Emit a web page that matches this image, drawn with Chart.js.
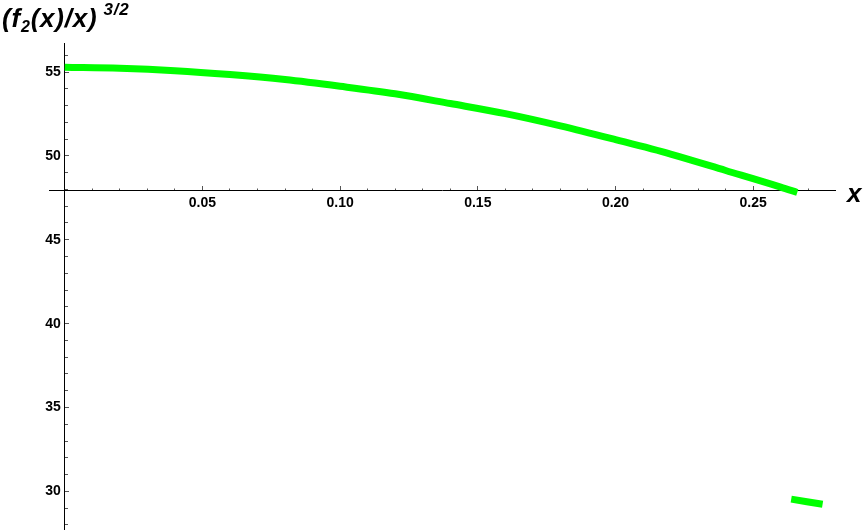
<!DOCTYPE html>
<html>
<head>
<meta charset="utf-8">
<script src="https://cdn.jsdelivr.net/npm/chart.js@4.4.1/dist/chart.umd.min.js"></script>
<style>
  html, body { margin: 0; padding: 0; background: #fff; }
  #wrap { position: relative; width: 864px; height: 530px; }
  #plot { position: absolute; left: 0; top: 0; }
  .lbl {
    position: absolute;
    font-family: "Liberation Sans", Arial, sans-serif;
    font-style: italic;
    font-weight: bold;
    color: #000;
    white-space: nowrap;
  }
  #title { left: 2px; top: 5px; font-size: 26px; line-height: 26px; letter-spacing: 0.8px; }
  #title .sub { position: relative; top: 5px; font-size: 16px; }
  #title .sup { position: relative; top: -12px; font-size: 17px; margin-left: 6px; }
  #xname { left: 847px; top: 180px; font-size: 26px; line-height: 26px; }
</style>
</head>
<body>
<div id="wrap">
  <canvas id="plot" width="864" height="530"></canvas>
  <div id="title" class="lbl">(f<span class="sub">2</span>(x)/x)<span class="sup">3/2</span></div>
  <div id="xname" class="lbl">x</div>
</div>
<script>
// curve values
const xValues = [0, 0.02, 0.04, 0.06, 0.08, 0.10, 0.12, 0.14, 0.16, 0.18, 0.20, 0.22, 0.24, 0.26, 0.266];
const yValues = [55.28, 55.22, 55.08, 54.85, 54.55, 54.15, 53.70, 53.12, 52.52, 51.79, 50.97, 50.11, 49.13, 48.14, 47.82];

// the short piece at the bottom right
const tailX = [0.2638, 0.2752];
const tailY = [29.54, 29.23];

// labelled ticks
const xTickLabels = [0.05, 0.10, 0.15, 0.20, 0.25];
const yTickLabels = [30, 35, 40, 45, 50, 55];

// axis ranges, and where the x axis crosses
const xMin = -0.0057, xMax = 0.2797;
const yMin = 27.74, yMax = 56.73;
const crossY = 47.92;

const fontFamily = '"Liberation Sans", Arial, sans-serif';
const green = '#00ff00';

function toPoints(xs, ys) {
    return xs.map(function(x, i) { return { x: x, y: ys[i] }; });
}

// small unlabelled ticks between the labelled ones
function minorTicks(from, to, step) {
    let out = [];
    for (let i = Math.round(from / step); i * step <= to + 1e-9; i++) {
        out.push({ value: +(i * step).toFixed(4) });
    }
    return out;
}

function lineDataset(points) {
    return {
        data: points,
        borderColor: green,
        borderWidth: 7,
        borderCapStyle: 'butt',
        pointRadius: 0,
        fill: false,
        tension: 0.4,
        cubicInterpolationMode: 'monotone',
        clip: false
    };
}

const ctx = document.getElementById('plot').getContext('2d');

new Chart(ctx, {
    type: 'line',
    data: {
        datasets: [
            lineDataset(toPoints(xValues, yValues)),
            lineDataset(toPoints(tailX, tailY))
        ]
    },
    options: {
        responsive: false,
        animation: false,
        events: [],
        layout: { padding: { left: 49, right: 29, top: 43, bottom: 0 } },
        plugins: { legend: { display: false }, tooltip: { enabled: false } },
        scales: {
            x: {
                type: 'linear',
                min: xMin, max: xMax,
                position: { y: crossY },
                border: { display: true, color: '#000', width: 1 },
                grid: { drawOnChartArea: false, drawTicks: true, tickLength: -5, tickColor: '#555' },
                afterBuildTicks: function(scale) {
                    scale.ticks = xTickLabels.map(function(v) { return { value: v }; });
                },
                ticks: {
                    autoSkip: false, maxRotation: 0, padding: 9,
                    color: '#000',
                    font: { family: fontFamily, size: 14, weight: 'bold' },
                    callback: function(v) { return v.toFixed(2); }
                }
            },
            xMinor: {
                type: 'linear', axis: 'x',
                min: xMin, max: xMax,
                position: { y: crossY },
                border: { display: false },
                grid: { drawOnChartArea: false, drawTicks: true, tickLength: -2.5, tickColor: '#555' },
                afterBuildTicks: function(scale) { scale.ticks = minorTicks(0.01, 0.27, 0.01); },
                ticks: { display: false }
            },
            y: {
                type: 'linear',
                min: yMin, max: yMax,
                position: { x: 0 },
                border: { display: true, color: '#000', width: 1 },
                grid: { drawOnChartArea: false, drawTicks: true, tickLength: -5, tickColor: '#555' },
                afterBuildTicks: function(scale) {
                    scale.ticks = yTickLabels.map(function(v) { return { value: v }; });
                },
                ticks: {
                    autoSkip: false, padding: 0,
                    color: '#000',
                    font: { family: fontFamily, size: 14, weight: 'bold', lineHeight: 0.1 },
                    // trailing space keeps the label clear of the axis line
                    callback: function(v) { return String(v) + ' '; }
                }
            },
            yMinor: {
                type: 'linear', axis: 'y',
                min: yMin, max: yMax,
                position: { x: 0 },
                border: { display: false },
                grid: { drawOnChartArea: false, drawTicks: true, tickLength: -3, tickColor: '#555' },
                afterBuildTicks: function(scale) { scale.ticks = minorTicks(28, 56, 1); },
                ticks: { display: false }
            }
        }
    }
});
</script>
</body>
</html>
